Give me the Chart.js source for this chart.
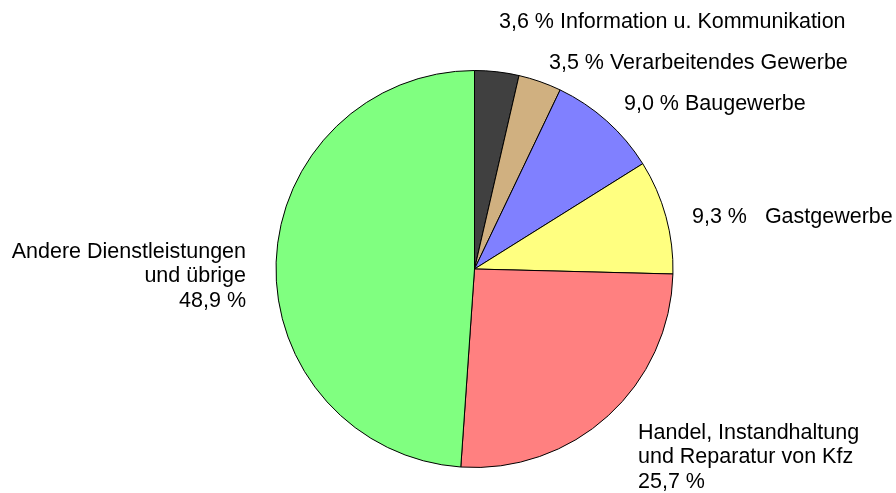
<!DOCTYPE html>
<html>
<head>
<meta charset="utf-8">
<script src="https://cdn.jsdelivr.net/npm/chart.js@4/dist/chart.umd.min.js"></script>
<style>
  html, body { margin: 0; padding: 0; background: #fff; }
  #chart { display: block; }
</style>
</head>
<body>
<canvas id="chart" width="896" height="493"></canvas>
<script>
// Branch shares, clockwise from 12 o'clock
const categories = [
  'Information u. Kommunikation',
  'Verarbeitendes Gewerbe',
  'Baugewerbe',
  'Gastgewerbe',
  'Handel, Instandhaltung und Reparatur von Kfz',
  'Andere Dienstleistungen und übrige'
];
const shares = [3.6, 3.5, 9.0, 9.3, 25.7, 48.9];
const sliceColors = ['#404040', '#D0B080', '#8080FF', '#FFFF80', '#FF8080', '#80FF80'];

// Label text lines per slice (as printed on the chart)
const labelLines = [
  ['3,6 % Information u. Kommunikation'],
  ['3,5 % Verarbeitendes Gewerbe'],
  ['9,0 % Baugewerbe'],
  ['9,3 %   Gastgewerbe'],
  ['Handel, Instandhaltung', 'und Reparatur von Kfz', '25,7 %'],
  ['Andere Dienstleistungen', 'und übrige', '48,9 %']
];

// Where each label block sits: x, y of first line, alignment
const labelPlaces = [
  { x: 499, y: 22, align: 'left' },
  { x: 549, y: 63, align: 'left' },
  { x: 624, y: 104, align: 'left' },
  { x: 692, y: 217, align: 'left' },
  { x: 638, y: 433, align: 'left' },
  { x: 246, y: 252, align: 'right' }
];

const labelFont = '21.5px "Liberation Sans", Arial, sans-serif';
const lineHeight = 24.5;

// Draws the outside labels as plain text
const outsideLabels = {
  id: 'outsideLabels',
  afterDraw: function (chart) {
    const ctx = chart.ctx;
    ctx.save();
    ctx.font = labelFont;
    ctx.fillStyle = '#000';
    ctx.textBaseline = 'middle';
    labelLines.forEach(function (lines, i) {
      const p = labelPlaces[i];
      ctx.textAlign = p.align;
      lines.forEach(function (line, j) {
        ctx.fillText(line, p.x, p.y + j * lineHeight);
      });
    });
    ctx.restore();
  }
};

const ctx = document.getElementById('chart').getContext('2d');
new Chart(ctx, {
  type: 'pie',
  data: {
    labels: categories,
    datasets: [{
      data: shares,
      backgroundColor: sliceColors,
      borderColor: '#000',
      borderWidth: 1
    }]
  },
  options: {
    responsive: false,
    animation: false,
    layout: {
      padding: { top: 70, bottom: 25, left: 275, right: 222 }
    },
    plugins: {
      legend: { display: false },
      tooltip: { enabled: false }
    }
  },
  plugins: [outsideLabels]
});
</script>
</body>
</html>
